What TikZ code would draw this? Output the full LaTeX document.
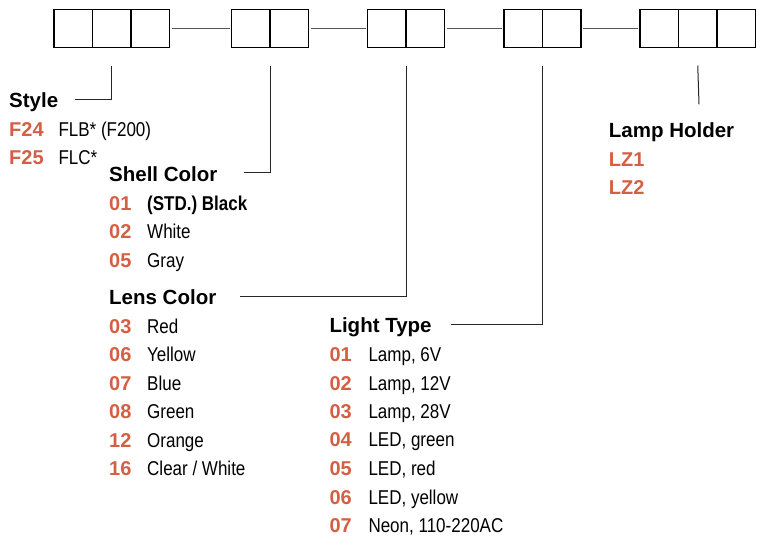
\documentclass[tikz,border=0pt]{standalone}
\usepackage{fontspec}
\setmainfont{Liberation Sans}
\newfontfamily\narrowfont[FakeStretch=0.85]{Liberation Sans}
\usetikzlibrary{positioning}

\definecolor{codeorange}{HTML}{D35F45}
\definecolor{linkgray}{HTML}{555555}

\tikzset{
  cell/.style={draw=black, line width=1.2pt, minimum width=38.5pt, minimum height=38pt, inner sep=0pt, outer sep=0pt},
  link/.style={draw=linkgray, line width=1.5pt, shorten <=2pt, shorten >=2pt},
  leader/.style={draw=black!85, line width=1pt},
  heading/.style={anchor=base west, inner sep=0pt, font=\fontsize{20.5}{24}\selectfont\bfseries},
  code/.style={anchor=base west, inner sep=0pt, text=codeorange, font=\fontsize{20}{24}\selectfont\bfseries},
  item/.style={anchor=base west, inner sep=0pt, font=\fontsize{20}{24}\selectfont\narrowfont}
}

\begin{document}
\begin{tikzpicture}[x=1pt, y=-1pt]
  \useasboundingbox (0,0) rectangle (757,538);

  % Part number boxes
  \node[cell, anchor=north west] (s1) at (54,9.5) {};
  \node[cell, right=0pt of s1] (s2) {};
  \node[cell, right=0pt of s2] (s3) {};

  \node[cell, anchor=north west] (c1) at (231.5,9.5) {};
  \node[cell, right=0pt of c1] (c2) {};

  \node[cell, anchor=north west] (l1) at (367.5,9.5) {};
  \node[cell, right=0pt of l1] (l2) {};

  \node[cell, anchor=north west] (t1) at (504,9.5) {};
  \node[cell, right=0pt of t1] (t2) {};

  \node[cell, anchor=north west] (h1) at (640,9.5) {};
  \node[cell, right=0pt of h1] (h2) {};
  \node[cell, right=0pt of h2] (h3) {};

  % Lines between the groups
  \draw[link] (s3.east) -- (c1.west);
  \draw[link] (c2.east) -- (l1.west);
  \draw[link] (l2.east) -- (t1.west);
  \draw[link] (t2.east) -- (h1.west);

  % Style
  \node[heading] (style) at (9,107.3) {Style};
  \node[code] (f24) at (9,136.7) {F24};
  \node[item] (flb) at (58.3,136.7) {FLB* (F200)};
  \node[code] (f25) at (9,164.5) {F25};
  \node[item] (flc) at (58.3,164.5) {FLC*};

  % Shell Color
  \node[heading] (shell) at (109,181.7) {Shell Color};
  \node[code] (sh01) at (109,210) {01};
  \node[item, font=\fontsize{20}{24}\selectfont\narrowfont\bfseries] (black) at (147,210) {(STD.) Black};
  \node[code] (sh02) at (109,238.5) {02};
  \node[item] (white) at (147,238.5) {White};
  \node[code] (sh05) at (109,267) {05};
  \node[item] (gray) at (147,267) {Gray};

  % Lens Color
  \node[heading] (lens) at (109,304.6) {Lens Color};
  \node[code] (le03) at (109,333) {03};
  \node[item] (red) at (147,333) {Red};
  \node[code] (le06) at (109,361.5) {06};
  \node[item] (yellow) at (147,361.5) {Yellow};
  \node[code] (le07) at (109,390) {07};
  \node[item] (blue) at (147,390) {Blue};
  \node[code] (le08) at (109,418.5) {08};
  \node[item] (green) at (147,418.5) {Green};
  \node[code] (le12) at (109,447) {12};
  \node[item] (orange) at (147,447) {Orange};
  \node[code] (le16) at (109,475.5) {16};
  \node[item] (clear) at (147,475.5) {Clear / White};

  % Light Type
  \node[heading] (light) at (329.3,332.3) {Light Type};
  \node[code] (li01) at (329.3,361.7) {01};
  \node[item] (lamp6) at (368.3,361.7) {Lamp, 6V};
  \node[code] (li02) at (329.3,390) {02};
  \node[item] (lamp12) at (368.3,390) {Lamp, 12V};
  \node[code] (li03) at (329.3,418.3) {03};
  \node[item] (lamp28) at (368.3,418.3) {Lamp, 28V};
  \node[code] (li04) at (329.3,446.7) {04};
  \node[item] (ledg) at (368.3,446.7) {LED, green};
  \node[code] (li05) at (329.3,475.5) {05};
  \node[item] (ledr) at (368.3,475.5) {LED, red};
  \node[code] (li06) at (329.3,504) {06};
  \node[item] (ledy) at (368.3,504) {LED, yellow};
  \node[code] (li07) at (329.3,532.3) {07};
  \node[item] (neon) at (368.3,532.3) {Neon, 110-220AC};

  % Lamp Holder
  \node[heading] (holder) at (608.7,137.7) {Lamp Holder};
  \node[code] (lz1) at (608.7,166.5) {LZ1};
  \node[code] (lz2) at (608.7,194.3) {LZ2};

  % Leader lines
  \coordinate (styleend) at (75,99);
  \coordinate (shellend) at (244,172.7);
  \coordinate (lensend) at (240,296);
  \coordinate (lightend) at (451,324);
  \coordinate (holderend) at (699,104.3);

  \draw[leader] ([yshift=-18pt]s2.south) |- (styleend);
  \draw[leader] ([yshift=-18pt]c2.south west) |- (shellend);
  \draw[leader] ([yshift=-18pt]l2.south west) |- (lensend);
  \draw[leader] ([yshift=-18pt]t2.south west) |- (lightend);
  \draw[leader] ([yshift=-18pt]h2.south) -- (holderend);

\end{tikzpicture}
\end{document}
